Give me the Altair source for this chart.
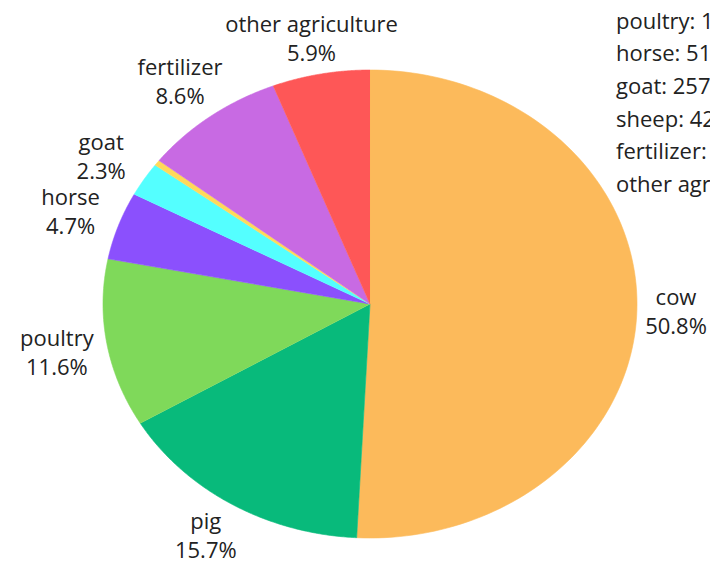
import altair as alt

# ---- data ----
categories = ["cow", "pig", "poultry", "horse", "goat", "sheep", "fertilizer", "other agriculture"]
values = [55880, 17270, 12760, 5150, 2575, 425, 9460, 6490]
colors = ["#FCBA5B", "#08BA7B", "#7FD95A", "#8B50FD", "#54FFFF", "#FFD95A", "#C86AE3", "#FE5757"]

# ---- layout (pixels inside the chart; page margin is 8px) ----
W, H = 702, 555
CX, CY = 362, 296        # pie centre
RX, RY = 267, 234        # ellipse radii
N_STEPS = 120
LABEL_R = 1.19
LINE_H = 29
LABEL_X_MAX = (W - 34 - CX) / RX     # keep labels inside the canvas
LABEL_Y_MAX = (CY - 29) / RY
LABEL_Y_MIN = (CY - 526) / RY
LEG_X = (608 - CX) / RX
LEG_Y0 = (CY - 13.5) / RY + 2 * (32.7 / RY)
LEG_DY = 32.7 / RY
Y_TOP = CY / RY
FONT = "Open Sans"
TEXT_COLOR = "#222222"

rows = [
    {"category": c, "value": v, "order": i, "step": list(range(-1, N_STEPS + 1))}
    for i, (c, v) in enumerate(zip(categories, values))
]

xs = alt.Scale(domain=[(0 - CX) / RX, (W - CX) / RX], nice=False, zero=False)
ys = alt.Scale(domain=[(CY - H) / RY, Y_TOP], nice=False, zero=False)
cscale = alt.Scale(domain=categories, range=colors)

base = (
    alt.Chart(alt.Data(values=rows))
    .transform_joinaggregate(total="sum(value)")
    .transform_window(cum="sum(value)", sort=[alt.SortField("order")])
    .transform_calculate(
        start="(datum.cum - datum.value) / datum.total",
        end="datum.cum / datum.total",
    )
)

wedges = (
    base.transform_flatten(["step"])
    .transform_calculate(
        t=f"2 * PI * (datum.start + (datum.end - datum.start) * max(datum.step, 0) / {N_STEPS})"
    )
    .transform_calculate(
        px="datum.step < 0 ? 0 : sin(datum.t)",
        py="datum.step < 0 ? 0 : cos(datum.t)",
    )
    .mark_line(strokeWidth=0.6, interpolate="linear")
    .encode(
        x=alt.X("px:Q", scale=xs, axis=None),
        y=alt.Y("py:Q", scale=ys, axis=None),
        detail="category:N",
        order="step:Q",
        fill=alt.Fill("category:N", scale=cscale, legend=None),
        color=alt.Color("category:N", scale=cscale, legend=None),
    )
)

labels = (
    base.transform_filter("datum.value / datum.total >= 0.01")
    .transform_calculate(
        mid="PI * (datum.start + datum.end)",
        label="datum.category + '\\n' + format(datum.value / datum.total, '.1%')",
    )
    .transform_calculate(
        lx=f"min({LABEL_R} * sin(datum.mid), {LABEL_X_MAX})",
        ly=f"clamp({LABEL_R} * cos(datum.mid), {LABEL_Y_MIN}, {LABEL_Y_MAX})",
    )
    .mark_text(font=FONT, fontSize=22, color=TEXT_COLOR, lineBreak="\n",
               lineHeight=LINE_H, align="center", baseline="middle", dy=-LINE_H / 2 + 2)
    .encode(
        x=alt.X("lx:Q", scale=xs, axis=None),
        y=alt.Y("ly:Q", scale=ys, axis=None),
        text="label:N",
    )
)

legend_text = (
    base.transform_calculate(
        tx=f"{LEG_X}",
        ty=f"{LEG_Y0} - datum.order * {LEG_DY}",
        line="datum.category + ': ' + datum.value",
    )
    .transform_filter(f"datum.ty < {Y_TOP}")
    .mark_text(font=FONT, fontSize=22, color=TEXT_COLOR, align="left", baseline="middle")
    .encode(
        x=alt.X("tx:Q", scale=xs, axis=None),
        y=alt.Y("ty:Q", scale=ys, axis=None),
        text="line:N",
    )
)

chart = (
    alt.layer(wedges, labels, legend_text)
    .properties(width=W, height=H, autosize=alt.AutoSizeParams(type="none"), padding=0)
    .configure_view(stroke=None)
)

chart.save("out.html", embed_options={"renderer": "svg", "actions": False})
